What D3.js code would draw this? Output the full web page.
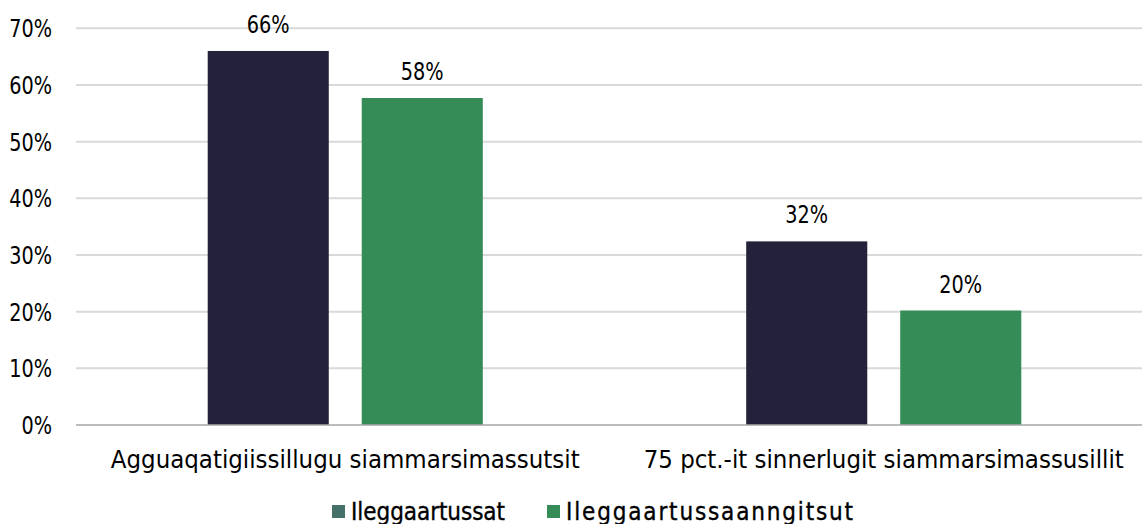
<!DOCTYPE html>
<html>
<head>
<meta charset="utf-8">
<script src="https://cdn.jsdelivr.net/npm/d3@7"></script>
<style>
  html, body { margin: 0; padding: 0; background: #ffffff; }
  svg { display: block; }
  text { font-family: "DejaVu Sans Condensed", "DejaVu Sans", sans-serif; font-stretch: condensed; fill: #000; }
</style>
</head>
<body>
<svg id="chart" width="1142" height="524"></svg>
<script>
// ---- data ----
const categories = ["Agguaqatigiissillugu siammarsimassutsit", "75 pct.-it sinnerlugit siammarsimassusillit"];
const seriesNames = ["Ileggaartussat", "Ileggaartussaanngitsut"];
const seriesValues = [
  [0.66, 0.324],   // Ileggaartussat
  [0.577, 0.202]   // Ileggaartussaanngitsut
];
const yTicks = [0, 0.1, 0.2, 0.3, 0.4, 0.5, 0.6, 0.7];
const barColors = ["#23223a", "#358c57"];
const legendColors = ["#46706a", "#358c57"];

// ---- layout ----
const svg = d3.select("#chart");
const plotLeft = 76, plotRight = 1153, gridRight = 1142;
const yTop = 28.3, yBottom = 425;

const y = d3.scaleLinear().domain([0, 0.7]).range([yBottom, yTop]);
const x0 = d3.scaleBand().domain(categories).range([plotLeft, plotRight]).paddingInner(0).paddingOuter(0);
const x1 = d3.scaleBand().domain(seriesNames).range([0, x0.bandwidth()]).paddingInner(0.214).paddingOuter(0.855);

const numScale = 0.84;

// gridlines
svg.append("g").selectAll("line")
  .data(yTicks.filter(t => t > 0))
  .join("line")
  .attr("x1", plotLeft).attr("x2", gridRight)
  .attr("y1", d => y(d)).attr("y2", d => y(d))
  .attr("stroke", "#d9d9d9").attr("stroke-width", 2);

// y tick labels
svg.append("g").selectAll("text")
  .data(yTicks)
  .join("text")
  .attr("transform", d => `translate(52,${y(d) + 9}) scale(${numScale},1)`)
  .attr("text-anchor", "end")
  .attr("font-size", 25.5)
  .text(d => Math.round(d * 100) + "%");

// bars
const flat = [];
seriesNames.forEach((s, si) => categories.forEach((c, ci) => flat.push({ s, si, c, v: seriesValues[si][ci] })));

svg.append("g").selectAll("rect")
  .data(flat)
  .join("rect")
  .attr("x", d => x0(d.c) + x1(d.s))
  .attr("width", x1.bandwidth())
  .attr("y", d => y(d.v))
  .attr("height", d => y(0) - y(d.v))
  .attr("fill", d => barColors[d.si]);

// value labels
svg.append("g").selectAll("text")
  .data(flat)
  .join("text")
  .attr("transform", d => `translate(${x0(d.c) + x1(d.s) + x1.bandwidth() / 2},${y(d.v) - 18}) scale(${numScale},1)`)
  .attr("text-anchor", "middle")
  .attr("font-size", 25.5)
  .text(d => Math.round(d.v * 100) + "%");

// baseline axis
svg.append("line")
  .attr("x1", plotLeft).attr("x2", gridRight)
  .attr("y1", y(0)).attr("y2", y(0))
  .attr("stroke", "#a6a6a6").attr("stroke-width", 1.5);

// category labels
svg.append("g").selectAll("text")
  .data(categories)
  .join("text")
  .attr("x", d => x0(d) + x0.bandwidth() / 2)
  .attr("y", 468)
  .attr("text-anchor", "middle")
  .attr("font-size", 25.5)
  .text(d => d);

// legend
const legendX = [332, 547];
const legendTextWidth = [154, 287];
const lg = svg.append("g").selectAll("g")
  .data(seriesNames)
  .join("g")
  .attr("transform", (d, i) => `translate(${legendX[i]},0)`);
lg.append("rect")
  .attr("x", 0).attr("y", 505).attr("width", 13).attr("height", 13)
  .attr("fill", (d, i) => legendColors[i]);
lg.append("text")
  .attr("x", 19).attr("y", 519.5)
  .attr("font-size", 24)
  .attr("stroke", "#000").attr("stroke-width", 0.35)
  .attr("textLength", (d, i) => legendTextWidth[i])
  .attr("lengthAdjust", "spacing")
  .text(d => d);
</script>
</body>
</html>
